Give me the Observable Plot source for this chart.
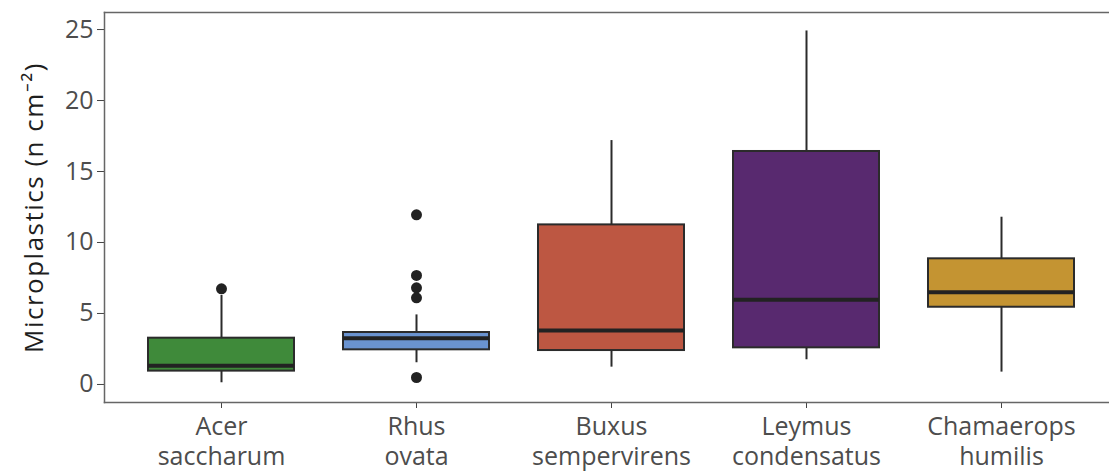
<!DOCTYPE html>
<html>
<head>
<meta charset="utf-8">
<script src="https://cdn.jsdelivr.net/npm/d3@7"></script>
<script src="https://cdn.jsdelivr.net/npm/@observablehq/plot@0.6"></script>
<style>
  html, body { margin: 0; padding: 0; background: #fff; }
  .ylab text { letter-spacing: 1.5px; }
</style>
</head>
<body>
<div id="chart"></div>
<script>
// Data
const species = ["Acer saccharum", "Rhus ovata", "Buxus sempervirens", "Leymus condensatus", "Chamaerops humilis"];
const tickLabels = ["Acer\nsaccharum", "Rhus\novata", "Buxus\nsempervirens", "Leymus\ncondensatus", "Chamaerops\nhumilis"];
const whiskerLow  = [0.12, 1.53, 1.22, 1.74, 0.87];
const q1          = [0.94, 2.44, 2.39, 2.58, 5.44];
const median      = [1.31, 3.26, 3.80, 5.96, 6.50];
const q3          = [3.26, 3.66, 11.24, 16.41, 8.85];
const whiskerHigh = [6.27, 4.90, 17.18, 24.9, 11.78];
const colors      = ["#3f8a3a", "#6a93d0", "#bd5742", "#58296f", "#c49432"];
const outlierSpecies = ["Acer saccharum", "Rhus ovata", "Rhus ovata", "Rhus ovata", "Rhus ovata", "Rhus ovata"];
const outlierValues  = [6.74, 11.95, 7.68, 6.81, 6.10, 0.49];
const yTicks = [0, 5, 10, 15, 20, 25];

const boxes = species.map((s, i) => ({
  species: s, lo: whiskerLow[i], q1: q1[i], med: median[i], q3: q3[i], hi: whiskerHigh[i]
}));
const outliers = outlierSpecies.map((s, i) => ({species: s, value: outlierValues[i]}));
const labelOf = new Map(species.map((s, i) => [s, tickLabels[i]]));

const ink = "#2b2b2b";
const chart = Plot.plot({
  width: 1109,
  height: 471,
  marginLeft: 104,
  marginRight: 0,
  marginTop: 12,
  marginBottom: 69,
  style: {fontFamily: "'Open Sans', sans-serif", fontSize: "25px", color: "#4d4d4d", background: "#fff"},
  x: {type: "band", domain: species, range: [104, 1118], paddingInner: 0.25, paddingOuter: 0.225, align: 0.5},
  y: {domain: [-1.27, 26.2]},
  color: {domain: species, range: colors},
  marks: [
    Plot.ruleX(boxes, {x: "species", y1: "q3", y2: "hi", stroke: ink, strokeWidth: 2}),
    Plot.ruleX(boxes, {x: "species", y1: "lo", y2: "q1", stroke: ink, strokeWidth: 2}),
    Plot.barY(boxes, {x: "species", y1: "q1", y2: "q3", fill: "species", stroke: ink, strokeWidth: 2}),
    Plot.tickY(boxes, {x: "species", y: "med", stroke: "#222", strokeWidth: 4}),
    Plot.dot(outliers, {x: "species", y: "value", r: 5.5, fill: "#222", stroke: "none"}),
    Plot.axisY({ticks: yTicks, tickSize: 7, tickPadding: 4, label: null, stroke: "#444", fontSize: 25}),
    Plot.axisX({tickSize: 6, tickPadding: 6, label: null, stroke: "#444", fontSize: 25, tickFormat: d => labelOf.get(d), lineHeight: 1.18}),
    Plot.frame({anchor: "left", stroke: "#666", strokeWidth: 1.5}),
    Plot.frame({anchor: "top", stroke: "#666", strokeWidth: 1.5}),
    Plot.frame({anchor: "bottom", stroke: "#666", strokeWidth: 1.5}),
    Plot.text(["Microplastics (n cm\u207B\u00B2)"], {frameAnchor: "left", dx: -70, rotate: -90, textAnchor: "middle", fontSize: 26, fill: "#1e1e1e", className: "ylab"})
  ]
});
document.getElementById("chart").appendChild(chart);
</script>
</body>
</html>
